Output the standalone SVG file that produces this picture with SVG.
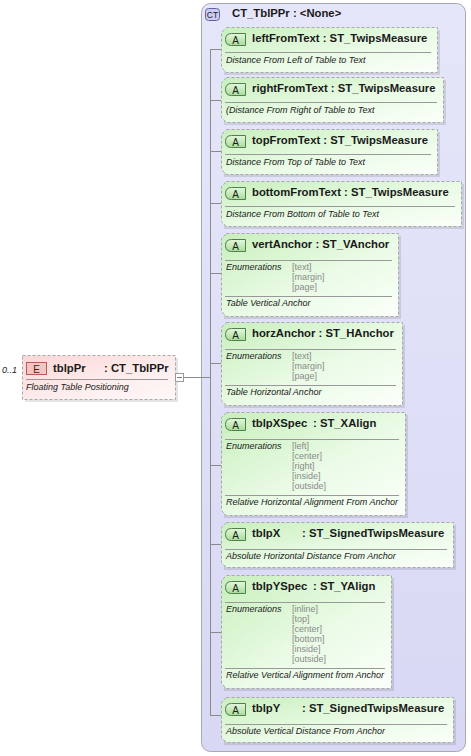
<svg xmlns="http://www.w3.org/2000/svg" width="471" height="756" viewBox="0 0 471 756">
<defs>
<linearGradient id="gAttr" x1="0" y1="0" x2="1" y2="1">
<stop offset="0" stop-color="#c8efbc"/>
<stop offset="0.55" stop-color="#eafbe6"/>
<stop offset="1" stop-color="#fbfffa"/>
</linearGradient>
<linearGradient id="gElem" x1="0" y1="0" x2="1" y2="1">
<stop offset="0" stop-color="#fcd6d6"/>
<stop offset="0.6" stop-color="#fdeeee"/>
<stop offset="1" stop-color="#fff8f8"/>
</linearGradient>
<linearGradient id="gBadgeA" x1="0" y1="0" x2="0" y2="1">
<stop offset="0" stop-color="#e4f8dc"/>
<stop offset="1" stop-color="#a8dc98"/>
</linearGradient>
<linearGradient id="gCT" x1="0" y1="0" x2="0" y2="1">
<stop offset="0" stop-color="#e6e6fa"/>
<stop offset="1" stop-color="#d8d8f4"/>
</linearGradient>
</defs>
<style>
text{font-family:"Liberation Sans",Arial,sans-serif;fill:#1a1a1a}
.hd{font-size:11.3px;font-weight:bold}
.ds{font-size:9px;font-style:italic;fill:#202020}
.en{font-size:9px;fill:#8a8a8a}
.el{font-size:9px;font-style:italic}
.bd{font-size:10px;text-anchor:middle}
.box{fill:url(#gAttr);stroke:#a8a8a8;stroke-width:1;stroke-dasharray:3,2}
.ebox{fill:url(#gElem);stroke:#a8a8a8;stroke-width:1;stroke-dasharray:3,2}
.sh{fill:#000;opacity:0.10}
.sep{stroke:#999;stroke-width:1}
.badgeA{fill:url(#gBadgeA);stroke:#4f7f4f;stroke-width:1}
.con{stroke:#8a8a8a;stroke-width:1;fill:none}
</style>

<g id="CT_TblPPr">
<rect x="201.5" y="3.5" width="264" height="748" rx="9" fill="url(#gCT)" stroke="#a8a8b8"/>
<rect x="205.5" y="8.5" width="14" height="12" rx="3" fill="#ccccf2" stroke="#6464a4"/>
<text x="212.5" y="17.5" style="font-size:8.5px;text-anchor:middle">CT</text>
<text x="232" y="17" class="hd">CT_TblPPr : &lt;None&gt;</text>
</g>

<g id="connectors">
<line class="con" x1="184" y1="377.5" x2="210.5" y2="377.5"/>
<line class="con" x1="210.5" y1="49" x2="210.5" y2="716"/>
<line class="con" x1="210.5" y1="49.5" x2="221" y2="49.5"/>
<line class="con" x1="210.5" y1="100.5" x2="221" y2="100.5"/>
<line class="con" x1="210.5" y1="151.5" x2="221" y2="151.5"/>
<line class="con" x1="210.5" y1="203.5" x2="221" y2="203.5"/>
<line class="con" x1="210.5" y1="273.5" x2="221" y2="273.5"/>
<line class="con" x1="210.5" y1="363.5" x2="221" y2="363.5"/>
<line class="con" x1="210.5" y1="465.5" x2="221" y2="465.5"/>
<line class="con" x1="210.5" y1="544.5" x2="221" y2="544.5"/>
<line class="con" x1="210.5" y1="632.5" x2="221" y2="632.5"/>
<line class="con" x1="210.5" y1="715.5" x2="221" y2="715.5"/>
</g>

<g id="tblpPr">
<rect x="25" y="358" width="153" height="44" class="sh"/>
<path class="ebox" d="M22.5,355.5 H175.5 V399.5 H22.5 Z"/>
<rect x="26.5" y="362.5" width="20" height="12" fill="#f7c4c4" stroke="#b85a5a"/>
<text x="36.5" y="372.5" class="bd" style="fill:#5a1010">E</text>
<text x="53" y="372" class="hd">tblpPr</text>
<text x="104" y="372" class="hd">: CT_TblPPr</text>
<line class="sep" x1="26" y1="379.5" x2="168" y2="379.5"/>
<text x="26" y="390" class="ds">Floating Table Positioning</text>
<rect x="175.5" y="373.5" width="8" height="8" fill="#fff" stroke="#9a9a9a"/>
<line x1="177" y1="377.5" x2="182" y2="377.5" stroke="#7a7a7a"/>
<text x="2" y="373" class="el">0..1</text>
</g>

<g id="leftFromText">
<rect x="224" y="30" width="216" height="45" class="sh"/>
<path class="box" d="M226.5,27.5 H437.5 V72.5 H226.5 L221.5,67.5 V32.5 Z"/>
<path class="badgeA" d="M231.5,33.5 H245.5 V45.5 H231.5 Q225.5,45.5 225.5,39.5 Q225.5,33.5 231.5,33.5 Z"/>
<text x="235.5" y="43.5" class="bd">A</text>
<text x="252" y="42" class="hd">leftFromText : ST_TwipsMeasure</text>
<line class="sep" x1="225" y1="52.5" x2="431" y2="52.5"/>
<text x="226" y="63" class="ds">Distance From Left of Table to Text</text>
</g>

<g id="rightFromText">
<rect x="224" y="80" width="222" height="45" class="sh"/>
<path class="box" d="M226.5,77.5 H443.5 V122.5 H226.5 L221.5,117.5 V82.5 Z"/>
<path class="badgeA" d="M231.5,83.5 H245.5 V95.5 H231.5 Q225.5,95.5 225.5,89.5 Q225.5,83.5 231.5,83.5 Z"/>
<text x="235.5" y="93.5" class="bd">A</text>
<text x="252" y="92" class="hd">rightFromText : ST_TwipsMeasure</text>
<line class="sep" x1="225" y1="102.5" x2="437" y2="102.5"/>
<text x="226" y="113" class="ds">(Distance From Right of Table to Text</text>
</g>

<g id="topFromText">
<rect x="224" y="132" width="216" height="45" class="sh"/>
<path class="box" d="M226.5,129.5 H437.5 V174.5 H226.5 L221.5,169.5 V134.5 Z"/>
<path class="badgeA" d="M231.5,135.5 H245.5 V147.5 H231.5 Q225.5,147.5 225.5,141.5 Q225.5,135.5 231.5,135.5 Z"/>
<text x="235.5" y="145.5" class="bd">A</text>
<text x="252" y="144" class="hd">topFromText : ST_TwipsMeasure</text>
<line class="sep" x1="225" y1="154.5" x2="431" y2="154.5"/>
<text x="226" y="165" class="ds">Distance From Top of Table to Text</text>
</g>

<g id="bottomFromText">
<rect x="224" y="184" width="240" height="45" class="sh"/>
<path class="box" d="M226.5,181.5 H461.5 V226.5 H226.5 L221.5,221.5 V186.5 Z"/>
<path class="badgeA" d="M231.5,187.5 H245.5 V199.5 H231.5 Q225.5,199.5 225.5,193.5 Q225.5,187.5 231.5,187.5 Z"/>
<text x="235.5" y="197.5" class="bd">A</text>
<text x="252" y="196" class="hd">bottomFromText : ST_TwipsMeasure</text>
<line class="sep" x1="225" y1="206.5" x2="455" y2="206.5"/>
<text x="226" y="217" class="ds">Distance From Bottom of Table to Text</text>
</g>

<g id="vertAnchor">
<rect x="224" y="236" width="177" height="83" class="sh"/>
<path class="box" d="M226.5,233.5 H398.5 V316.5 H226.5 L221.5,311.5 V238.5 Z"/>
<path class="badgeA" d="M231.5,239.5 H245.5 V251.5 H231.5 Q225.5,251.5 225.5,245.5 Q225.5,239.5 231.5,239.5 Z"/>
<text x="235.5" y="249.5" class="bd">A</text>
<text x="252" y="248" class="hd">vertAnchor : ST_VAnchor</text>
<line class="sep" x1="225" y1="260.5" x2="392" y2="260.5"/>
<text x="226" y="270" class="el">Enumerations</text>
<text x="292" y="270" class="en">[text]</text>
<text x="292" y="280" class="en">[margin]</text>
<text x="292" y="290" class="en">[page]</text>
<line class="sep" x1="225" y1="296.5" x2="392" y2="296.5"/>
<text x="226" y="306" class="ds">Table Vertical Anchor</text>
</g>

<g id="horzAnchor">
<rect x="224" y="325" width="181" height="83" class="sh"/>
<path class="box" d="M226.5,322.5 H402.5 V405.5 H226.5 L221.5,400.5 V327.5 Z"/>
<path class="badgeA" d="M231.5,328.5 H245.5 V340.5 H231.5 Q225.5,340.5 225.5,334.5 Q225.5,328.5 231.5,328.5 Z"/>
<text x="235.5" y="338.5" class="bd">A</text>
<text x="252" y="337" class="hd">horzAnchor : ST_HAnchor</text>
<line class="sep" x1="225" y1="349.5" x2="396" y2="349.5"/>
<text x="226" y="359" class="el">Enumerations</text>
<text x="292" y="359" class="en">[text]</text>
<text x="292" y="369" class="en">[margin]</text>
<text x="292" y="379" class="en">[page]</text>
<line class="sep" x1="225" y1="385.5" x2="396" y2="385.5"/>
<text x="226" y="395" class="ds">Table Horizontal Anchor</text>
</g>

<g id="tblpXSpec">
<rect x="224" y="415" width="184" height="103" class="sh"/>
<path class="box" d="M226.5,412.5 H405.5 V515.5 H226.5 L221.5,510.5 V417.5 Z"/>
<path class="badgeA" d="M231.5,418.5 H245.5 V430.5 H231.5 Q225.5,430.5 225.5,424.5 Q225.5,418.5 231.5,418.5 Z"/>
<text x="235.5" y="428.5" class="bd">A</text>
<text x="252" y="427" class="hd">tblpXSpec</text>
<text x="313" y="427" class="hd">: ST_XAlign</text>
<line class="sep" x1="225" y1="439.5" x2="399" y2="439.5"/>
<text x="226" y="449" class="el">Enumerations</text>
<text x="292" y="449" class="en">[left]</text>
<text x="292" y="459" class="en">[center]</text>
<text x="292" y="469" class="en">[right]</text>
<text x="292" y="479" class="en">[inside]</text>
<text x="292" y="489" class="en">[outside]</text>
<line class="sep" x1="225" y1="495.5" x2="399" y2="495.5"/>
<text x="226" y="505" class="ds">Relative Horizontal Alignment From Anchor</text>
</g>

<g id="tblpX">
<rect x="224" y="525" width="232" height="45" class="sh"/>
<path class="box" d="M226.5,522.5 H453.5 V567.5 H226.5 L221.5,562.5 V527.5 Z"/>
<path class="badgeA" d="M231.5,528.5 H245.5 V540.5 H231.5 Q225.5,540.5 225.5,534.5 Q225.5,528.5 231.5,528.5 Z"/>
<text x="235.5" y="538.5" class="bd">A</text>
<text x="252" y="537" class="hd">tblpX</text>
<text x="302" y="537" class="hd">: ST_SignedTwipsMeasure</text>
<line class="sep" x1="225" y1="549.5" x2="447" y2="549.5"/>
<text x="226" y="559" class="ds">Absolute Horizontal Distance From Anchor</text>
</g>

<g id="tblpYSpec">
<rect x="224" y="578" width="170" height="113" class="sh"/>
<path class="box" d="M226.5,575.5 H391.5 V688.5 H226.5 L221.5,683.5 V580.5 Z"/>
<path class="badgeA" d="M231.5,581.5 H245.5 V593.5 H231.5 Q225.5,593.5 225.5,587.5 Q225.5,581.5 231.5,581.5 Z"/>
<text x="235.5" y="591.5" class="bd">A</text>
<text x="252" y="590" class="hd">tblpYSpec</text>
<text x="313" y="590" class="hd">: ST_YAlign</text>
<line class="sep" x1="225" y1="602.5" x2="385" y2="602.5"/>
<text x="226" y="612" class="el">Enumerations</text>
<text x="292" y="612" class="en">[inline]</text>
<text x="292" y="622" class="en">[top]</text>
<text x="292" y="632" class="en">[center]</text>
<text x="292" y="642" class="en">[bottom]</text>
<text x="292" y="652" class="en">[inside]</text>
<text x="292" y="662" class="en">[outside]</text>
<line class="sep" x1="225" y1="668.5" x2="385" y2="668.5"/>
<text x="226" y="678" class="ds">Relative Vertical Alignment from Anchor</text>
</g>

<g id="tblpY">
<rect x="224" y="700" width="232" height="45" class="sh"/>
<path class="box" d="M226.5,697.5 H453.5 V742.5 H226.5 L221.5,737.5 V702.5 Z"/>
<path class="badgeA" d="M231.5,703.5 H245.5 V715.5 H231.5 Q225.5,715.5 225.5,709.5 Q225.5,703.5 231.5,703.5 Z"/>
<text x="235.5" y="713.5" class="bd">A</text>
<text x="252" y="712" class="hd">tblpY</text>
<text x="302" y="712" class="hd">: ST_SignedTwipsMeasure</text>
<line class="sep" x1="225" y1="724.5" x2="447" y2="724.5"/>
<text x="226" y="734" class="ds">Absolute Vertical Distance From Anchor</text>
</g>
</svg>
